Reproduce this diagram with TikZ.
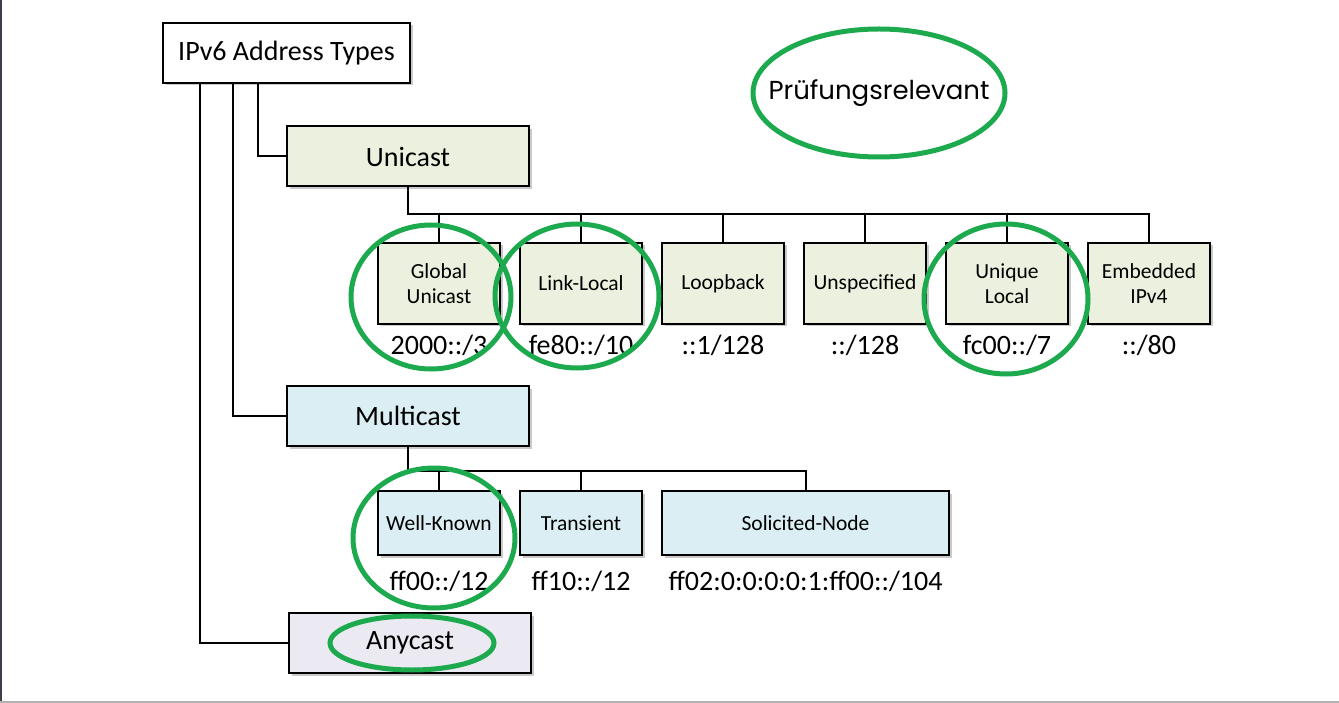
\documentclass[tikz,border=0pt]{standalone}
\usepackage{fontspec}
\setmainfont{Carlito}
\newfontfamily\prfont{Poppins}
\usetikzlibrary{shapes.geometric,shadows}
\definecolor{ugreen}{HTML}{EBF1DE}
\definecolor{mblue}{HTML}{DAEEF3}
\definecolor{alav}{HTML}{EBE9F1}
\definecolor{ring}{RGB}{29,170,79}
\definecolor{edgegray}{RGB}{60,64,72}
\begin{document}
\begin{tikzpicture}[x=1pt,y=-1pt,
 box/.style={draw=black, line width=2pt, rectangle, inner sep=0pt,
   drop shadow={shadow xshift=2.5pt,shadow yshift=-2.5pt,opacity=0.35,fill=black!60}},
 big/.style={box, minimum width=242pt, minimum height=60pt, font=\fontsize{28}{32}\selectfont},
 small/.style={box, fill=ugreen, minimum width=122pt, minimum height=81pt, align=center, font=\fontsize{21.5}{25}\selectfont},
 msmall/.style={box, fill=mblue, minimum height=64pt, align=center, font=\fontsize{21.5}{25}\selectfont},
 addr/.style={font=\fontsize{28}{32}\selectfont, inner sep=0pt},
 conn/.style={line width=2pt},
 gring/.style={draw=ring, line width=5pt},
]
\useasboundingbox (0,0) rectangle (1339,703);
\fill[white] (0,0) rectangle (1339,703);
\draw[line width=1.6pt, edgegray] (0.8,0) -- (0.8,703);
\draw[line width=2pt, black!30] (0,701.8) -- (1339,701.8);

% main nodes
\node[big, fill=white, minimum width=247pt] (root) at (286.5,53) {IPv6 Address Types};
\node[big, fill=ugreen] (uni) at (408,156.5) {Unicast};
\node[big, fill=mblue] (multi) at (408,416) {Multicast};
\node[big, fill=alav] (any) at (410,643) {Anycast};

% root connectors
\coordinate (c1) at (258,0);
\coordinate (c2) at (233,0);
\coordinate (c3) at (200,0);
\draw[conn] (root.south -| c1) |- (uni.west);
\draw[conn] (root.south -| c2) |- (multi.west);
\draw[conn] (root.south -| c3) |- (any.west);

% unicast children
\node[small] (glob) at (439,283.5) {Global\\Unicast};
\node[small] (link) at (581,283.5) {Link-Local};
\node[small] (loop) at (723,283.5) {Loopback};
\node[small] (unsp) at (865,283.5) {Unspecified};
\node[small] (uniq) at (1007,283.5) {Unique\\Local};
\node[small] (emb) at (1149,283.5) {Embedded\\IPv4};

\node[addr] (aglob) at (439,345) {2000::/3};
\node[addr] (alink) at (581,345) {fe80::/10};
\node[addr] (aloop) at (723,345) {::1/128};
\node[addr] (aunsp) at (865,345) {::/128};
\node[addr] (auniq) at (1007,345) {fc00::/7};
\node[addr] (aemb) at (1149,345) {::/80};

\coordinate (ubus) at (0,214);
\draw[conn] (uni.south) -- (uni.south |- ubus) -| (emb.north);
\foreach \n in {glob,link,loop,unsp,uniq}
  \draw[conn] (\n.north |- ubus) -- (\n.north);

% multicast children
\node[msmall, minimum width=122pt] (well) at (439,523) {Well-Known};
\node[msmall, minimum width=122pt] (trans) at (581,523) {Transient};
\node[msmall, minimum width=287pt] (sol) at (805.5,523) {Solicited-Node};

\node[addr] (awell) at (439,581) {ff00::/12};
\node[addr] (atrans) at (581,581) {ff10::/12};
\node[addr] (asol) at (805.5,581) {ff02:0:0:0:0:1:ff00::/104};

\coordinate (mbus) at (0,471);
\draw[conn] (multi.south) -- (multi.south |- mbus) -| (sol.north);
\foreach \n in {well,trans}
  \draw[conn] (\n.north |- mbus) -- (\n.north);

% green rings
\draw[gring] (431,297) ellipse [x radius=80, y radius=72];
\draw[gring] (577,296) ellipse [x radius=82, y radius=72];
\draw[gring] (1006,299) ellipse [x radius=82, y radius=75];
\draw[gring] (434,538) ellipse [x radius=81, y radius=70];
\draw[gring] (412,643) ellipse [x radius=82, y radius=27];

\node[inner sep=0pt, font=\prfont\fontsize{26}{30}\selectfont] (pr) at (879,93) {Prüfungsrelevant};
\draw[gring] (pr.center) ellipse [x radius=126, y radius=64];
\end{tikzpicture}
\end{document}
